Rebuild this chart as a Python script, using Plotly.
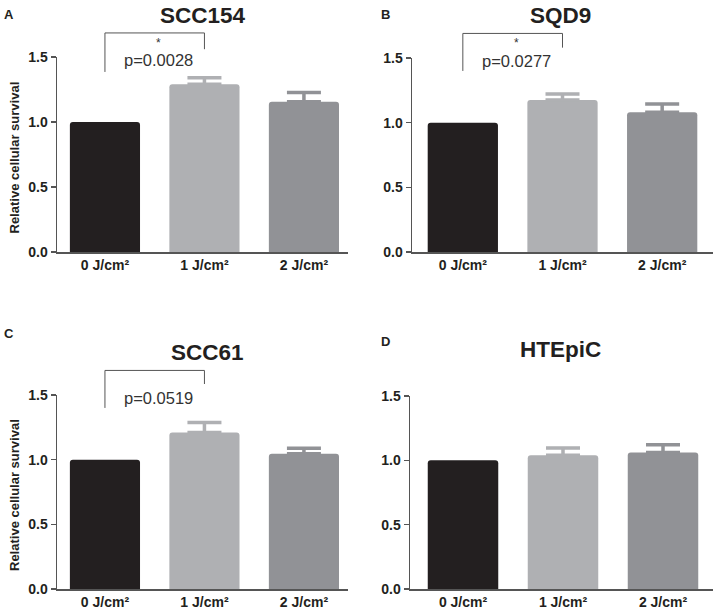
import plotly.graph_objects as go

categories = ["0 J/cm²", "1 J/cm²", "2 J/cm²"]
panel_titles = ["SCC154", "SQD9", "SCC61", "HTEpiC"]
panel_letters = ["A", "B", "C", "D"]
values_A = [1.0, 1.29, 1.155]
errors_A = [0.0, 0.05, 0.072]
values_B = [1.0, 1.175, 1.08]
errors_B = [0.0, 0.047, 0.064]
values_C = [1.0, 1.21, 1.046]
errors_C = [0.0, 0.077, 0.043]
values_D = [1.0, 1.04, 1.06]
errors_D = [0.0, 0.056, 0.062]
y_ticks = [0.0, 0.5, 1.0, 1.5]
y_tick_labels = ["0.0", "0.5", "1.0", "1.5"]
p_labels = ["p=0.0028", "p=0.0277", "p=0.0519", None]
stars = ["*", "*", "", None]
bar_colors = ["#231f20", "#afb0b3", "#919296"]

W, H = 717, 612
# pixel geometry of each panel: (x_left, x_right, y_zero_px, y_top_px, xrange)
geom = [
    (57, 348, 252, 57, [-0.482, 2.443]),
    (412, 713, 252, 58, [-0.51, 2.51]),
    (57, 348, 589, 395, [-0.482, 2.443]),
    (410, 713, 589, 396, [-0.53, 2.50]),
]
values = [values_A, values_B, values_C, values_D]
errors = [errors_A, errors_B, errors_C, errors_D]
title_pos = [(203, 15), (560, 15), (208, 352), (560, 349)]
letter_pos = [(9, 14), (385, 14), (9, 333), (385, 341)]
# bracket: top level, left leg bottom, right leg bottom (data units)
brackets = [(1.685, 1.385, 1.56), (1.69, 1.40, 1.58), (1.69, 1.40, 1.585), None]

FONT = "Liberation Sans, Arial, sans-serif"
fig = go.Figure()
layout = dict(
    template="none",
    width=W, height=H, margin=dict(l=0, r=0, t=0, b=0, autoexpand=False),
    paper_bgcolor="white", plot_bgcolor="white", showlegend=False,
    barmode="overlay",
)
annotations = []
shapes = []

for i in range(4):
    xl, xr, y0, y1, xr_range = geom[i]
    ax = "" if i == 0 else str(i + 1)
    for j, cat in enumerate(categories):
        err = errors[i][j]
        fig.add_trace(go.Bar(
            x=[cat], y=[values[i][j]],
            marker=dict(color=bar_colors[j], line=dict(width=0), cornerradius=3),
            width=0.705,
            error_y=dict(type="data", symmetric=False, array=[err], arrayminus=[0],
                         color=bar_colors[j], thickness=3.5, width=17,
                         visible=err > 0),
            xaxis="x" + ax, yaxis="y" + ax,
        ))
    layout["xaxis" + ax] = dict(
        domain=[xl / W, xr / W], range=xr_range, anchor="y" + ax,
        showline=True, linecolor="#555", linewidth=1.5, ticks="",
        showgrid=False, zeroline=False, automargin=False,
        categoryorder="array", categoryarray=categories,
        tickfont=dict(family=FONT, size=14, color="#231f20", weight="bold"),
        fixedrange=True,
    )
    layout["yaxis" + ax] = dict(
        domain=[1 - y0 / H, 1 - y1 / H], range=[0, 1.5], anchor="x" + ax,
        showline=True, linecolor="#555", linewidth=1.5, ticks="outside",
        ticklen=5, tickwidth=1.5, tickcolor="#555",
        tickvals=y_ticks, ticktext=y_tick_labels,
        showgrid=False, zeroline=False, automargin=False,
        tickfont=dict(family=FONT, size=14, color="#231f20", weight="bold"),
        fixedrange=True,
    )
    tx, ty = title_pos[i]
    annotations.append(dict(
        x=tx / W, y=1 - ty / H, xref="paper", yref="paper", showarrow=False,
        text=panel_titles[i], xanchor="center", yanchor="middle",
        font=dict(family=FONT, size=22.5, color="#231f20", weight="bold"),
    ))
    lx, ly = letter_pos[i]
    annotations.append(dict(
        x=lx / W, y=1 - ly / H, xref="paper", yref="paper", showarrow=False,
        text=panel_letters[i], xanchor="center", yanchor="middle",
        font=dict(family=FONT, size=13, color="#231f20", weight="bold"),
    ))
    if i in (0, 2):
        annotations.append(dict(
            x=14 / W, y=1 - ((y0 + y1) / 2 + 3) / H, xref="paper", yref="paper",
            showarrow=False, text="Relative cellular survival", textangle=-90,
            xanchor="center", yanchor="middle",
            font=dict(family=FONT, size=13, color="#231f20", weight="bold"),
        ))
    br = brackets[i]
    if br is not None:
        top, lb, rb = br
        span = xr_range[1] - xr_range[0]
        fx0 = (0 - xr_range[0]) / span
        fx1 = (1 - xr_range[0]) / span
        xd = "x" + ax + " domain"
        yd = "y" + ax + " domain"
        path = "M {a},{b} L {a},{c} L {d},{c} L {d},{e}".format(
            a=fx0, b=lb / 1.5, c=top / 1.5, d=fx1, e=rb / 1.5)
        shapes.append(dict(type="path", path=path, xref=xd, yref=yd,
                           line=dict(color="#555", width=1)))
        fmid = (fx0 + fx1) / 2 + 0.012
        if stars[i]:
            annotations.append(dict(
                x=fmid, y=(top - 0.075) / 1.5, xref=xd, yref=yd, showarrow=False,
                text=stars[i], xanchor="center", yanchor="middle",
                font=dict(family=FONT, size=12, color="#333"),
            ))
        annotations.append(dict(
            x=fmid, y=(top - 0.21) / 1.5, xref=xd, yref=yd, showarrow=False,
            text=p_labels[i], xanchor="center", yanchor="middle",
            font=dict(family=FONT, size=16.5, color="#333"),
        ))

layout["annotations"] = annotations
layout["shapes"] = shapes
fig.update_layout(**layout)

fig.write_html(
    "out.html",
    config={"displayModeBar": False, "staticPlot": True},
    post_script="document.body.style.margin='0';document.body.style.overflow='hidden';",
)
